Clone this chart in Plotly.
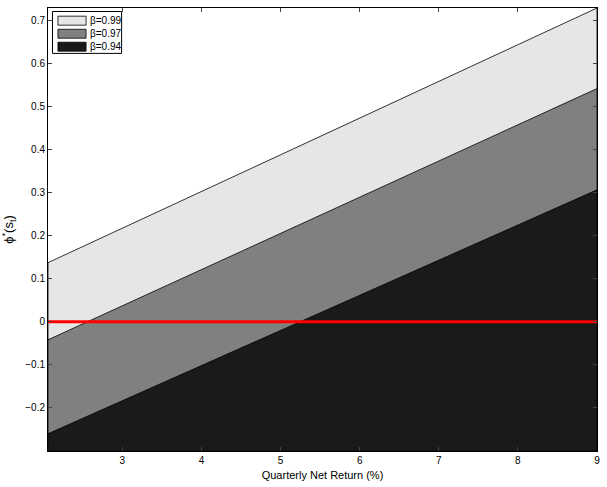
import plotly.graph_objects as go

# data
x_range = [2.06, 9.0]
betas = ["β=0.99", "β=0.97", "β=0.94"]
y_start = [0.137, -0.042, -0.260]
y_end = [0.728, 0.541, 0.306]
fill_colors = ["#e6e6e6", "#808080", "#1a1a1a"]
y_min, y_max = -0.30, 0.728
x_ticks = [3, 4, 5, 6, 7, 8, 9]
y_ticks = [-0.2, -0.1, 0, 0.1, 0.2, 0.3, 0.4, 0.5, 0.6, 0.7]
y_tick_text = ["−0.2", "−0.1", "0", "0.1", "0.2", "0.3", "0.4", "0.5", "0.6", "0.7"]

W, H = 607, 487
ML, MR, MT, MB = 48, 7, 7, 36
PW, PH = W - ML - MR, H - MT - MB


def px(x):
    return (x - ML) / PW


def py(y):
    return 1 - (y - MT) / PH


fig = go.Figure()
for name, ys, ye, col in zip(betas, y_start, y_end, fill_colors):
    fig.add_trace(go.Scatter(
        x=[x_range[0], x_range[1], x_range[1], x_range[0], x_range[0]],
        y=[ys, ye, y_min, y_min, ys],
        fill="toself", fillcolor=col, mode="lines",
        line=dict(color="black", width=0.8), name=name,
        hoverinfo="skip", showlegend=False,
    ))
fig.add_trace(go.Scatter(x=x_range, y=[0, 0], mode="lines",
                         line=dict(color="#ff0000", width=3), showlegend=False))

# manual MATLAB-style legend
shapes = [dict(type="rect", xref="paper", yref="paper",
               x0=px(52.5), x1=px(122), y0=py(52.5), y1=py(10.5),
               fillcolor="white", line=dict(color="black", width=1), layer="above")]
annotations = []
centers = [19.7, 32.8, 45.8]
for name, col, c in zip(betas, fill_colors, centers):
    shapes.append(dict(type="rect", xref="paper", yref="paper",
                       x0=px(58), x1=px(86.3), y0=py(c + 4.5), y1=py(c - 4.5),
                       fillcolor=col, line=dict(color="black", width=0.8), layer="above"))
    annotations.append(dict(xref="paper", yref="paper", x=px(88), y=py(c),
                            xanchor="left", yanchor="middle", text=name,
                            showarrow=False, font=dict(size=10)))

fig.update_layout(
    width=W, height=H,
    margin=dict(l=ML, r=MR, t=MT, b=MB),
    paper_bgcolor="white", plot_bgcolor="white",
    font=dict(family="Liberation Sans, Arial, sans-serif", size=10, color="black"),
    showlegend=False, shapes=shapes, annotations=annotations,
)
fig.update_xaxes(range=x_range, tickvals=x_ticks, ticks="inside", ticklen=4,
                 showline=True, linecolor="black", linewidth=1, mirror="ticks",
                 showgrid=False, zeroline=False,
                 title=dict(text="Quarterly Net Return (%)", font=dict(size=11), standoff=6))
fig.update_yaxes(range=[y_min, y_max], tickvals=y_ticks, ticktext=y_tick_text,
                 ticks="inside", ticklen=4,
                 showline=True, linecolor="black", linewidth=1, mirror="ticks",
                 showgrid=False, zeroline=False,
                 title=dict(text="ϕ<sup>*</sup>(s<sub>t</sub>)", font=dict(size=13), standoff=8))

fig.write_html("out.html")
